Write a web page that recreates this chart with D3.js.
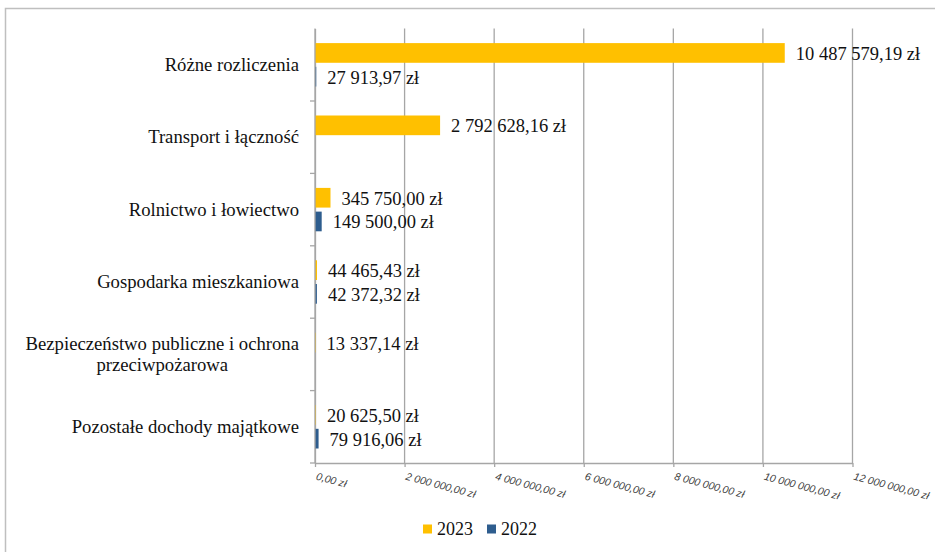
<!DOCTYPE html>
<html>
<head>
<meta charset="utf-8">
<script src="https://cdn.jsdelivr.net/npm/d3@7/dist/d3.min.js"></script>
<style>
  html, body { margin: 0; padding: 0; background: #fff; }
  svg { display: block; }
</style>
</head>
<body>
<svg id="chart" width="935" height="552"></svg>
<script>
// ---- Data ----
const categories = [
  "Różne rozliczenia",
  "Transport i łączność",
  "Rolnictwo i łowiectwo",
  "Gospodarka mieszkaniowa",
  "Bezpieczeństwo publiczne i ochrona przeciwpożarowa",
  "Pozostałe dochody majątkowe"
];
const seriesNames = ["2023", "2022"];
const values2023 = [10487579.19, 2792628.16, 345750.00, 44465.43, 13337.14, 20625.50];
const values2022 = [27913.97, null, 149500.00, 42372.32, null, 79916.06];
const xTickValues = [0, 2000000, 4000000, 6000000, 8000000, 10000000, 12000000];
const seriesColors = ["#FFC000", "#2E5D8E"];

// ---- Layout ----
const svg = d3.select("#chart");
const plot = { left: 315, right: 852.5, top: 28.6, bottom: 463 };

const pl = d3.formatLocale({ decimal: ",", thousands: " ", grouping: [3], currency: ["", " zł"] });
const fmt = v => pl.format(",.2f")(v) + " zł";

// outer border (extends past the canvas like in the reference)
svg.append("rect")
  .attr("x", 5.5).attr("y", 8.5).attr("width", 1200).attr("height", 1200)
  .attr("fill", "none").attr("stroke", "#BFBFBF").attr("stroke-width", 1.5);

const x = d3.scaleLinear().domain([0, 12000000]).range([plot.left, plot.right]);
const y = d3.scaleBand().domain(categories).range([plot.top, plot.bottom]).paddingInner(0).paddingOuter(0);
const yInner = d3.scaleBand().domain(seriesNames)
  .range([14.5, y.bandwidth() - 14.5]).paddingInner(0.17).paddingOuter(0);

// gridlines
svg.append("g").selectAll("line").data(xTickValues.slice(1)).join("line")
  .attr("x1", d => x(d)).attr("x2", d => x(d))
  .attr("y1", plot.top).attr("y2", plot.bottom)
  .attr("stroke", "#A6A6A6").attr("stroke-width", 1.3);

// x axis
const xAxis = d3.axisBottom(x).tickValues(xTickValues).tickSize(4).tickSizeOuter(0)
  .tickFormat(d => fmt(d));
const gx = svg.append("g").attr("transform", `translate(0,${plot.bottom})`).call(xAxis);
gx.select(".domain").attr("stroke", "#A6A6A6").attr("stroke-width", 1.3);
gx.selectAll(".tick line").attr("stroke", "#A6A6A6").attr("stroke-width", 1.3);
gx.selectAll(".tick text")
  .attr("text-anchor", "start")
  .attr("x", 0).attr("y", 0).attr("dy", null)
  .attr("transform", "translate(0,16.5) rotate(15)")
  .attr("font-family", "Liberation Sans, Arial, sans-serif")
  .attr("font-style", "italic")
  .attr("font-size", "10.5px")
  .attr("fill", "#404040");

// y axis
const yAxis = d3.axisLeft(y).tickSize(0).tickSizeOuter(0).tickFormat("");
const gy = svg.append("g").attr("transform", `translate(${plot.left},0)`).call(yAxis);
gy.select(".domain").attr("stroke", "#A6A6A6").attr("stroke-width", 1.3);
gy.selectAll(".tick").remove();
// category boundary ticks
const boundaries = categories.slice(1).map(c => y(c));
boundaries.push(plot.bottom);
gy.append("g").selectAll("line").data(boundaries).join("line")
  .attr("x1", -5).attr("x2", 0).attr("y1", d => d).attr("y2", d => d)
  .attr("stroke", "#A6A6A6").attr("stroke-width", 1.3);

// category labels (wrapped, centered lines, right-aligned block)
const labelRight = 299;
const maxLabelW = 285;
const catG = svg.append("g")
  .attr("font-family", "Liberation Serif, Times New Roman, serif")
  .attr("font-size", "18.7px").attr("fill", "#111");
categories.forEach(cat => {
  const words = cat.split(" ");
  const lines = [];
  let cur = [];
  const tmp = catG.append("text");
  words.forEach(w => {
    const test = cur.concat([w]).join(" ");
    tmp.text(test);
    if (tmp.node().getComputedTextLength() > maxLabelW && cur.length) {
      lines.push(cur.join(" "));
      cur = [w];
    } else cur.push(w);
  });
  lines.push(cur.join(" "));
  let widest = 0;
  lines.forEach(l => { tmp.text(l); widest = Math.max(widest, tmp.node().getComputedTextLength()); });
  tmp.remove();
  const cy = y(cat) + y.bandwidth() / 2;
  const lh = 21.5;
  const tx = lines.length > 1 ? labelRight - widest / 2 : labelRight;
  const t = catG.append("text")
    .attr("text-anchor", lines.length > 1 ? "middle" : "end")
    .attr("x", tx);
  lines.forEach((l, i) => {
    t.append("tspan")
      .attr("x", tx)
      .attr("y", cy + (i - (lines.length - 1) / 2) * lh)
      .attr("dy", "0.33em")
      .text(l);
  });
});

// bars
const seriesData = [values2023, values2022];
const barsG = svg.append("g");
const labelsG = svg.append("g")
  .attr("font-family", "Liberation Serif, Times New Roman, serif")
  .attr("font-size", "18.5px").attr("fill", "#111");
seriesNames.forEach((s, si) => {
  const rows = categories.map((c, i) => ({ c, v: seriesData[si][i] })).filter(d => d.v != null);
  barsG.append("g").selectAll("rect").data(rows).join("rect")
    .attr("x", x(0))
    .attr("y", d => y(d.c) + yInner(s))
    .attr("width", d => Math.max(0.8, x(d.v) - x(0)))
    .attr("height", yInner.bandwidth())
    .attr("fill", seriesColors[si]);
  labelsG.append("g").selectAll("text").data(rows).join("text")
    .attr("x", d => x(d.v) + 11)
    .attr("y", d => y(d.c) + yInner(s) + yInner.bandwidth() / 2)
    .attr("dy", "0.38em")
    .text(d => fmt(d.v));
});

// re-draw y axis line on top of bars
svg.append("line")
  .attr("x1", plot.left).attr("x2", plot.left).attr("y1", plot.top).attr("y2", plot.bottom)
  .attr("stroke", "#A6A6A6").attr("stroke-width", 1.3);

// legend
const legend = svg.append("g")
  .attr("font-family", "Liberation Serif, Times New Roman, serif")
  .attr("font-size", "18px").attr("fill", "#111");
const legendX = [423, 487];
seriesNames.forEach((s, i) => {
  legend.append("rect").attr("x", legendX[i]).attr("y", 524.5).attr("width", 9).attr("height", 9)
    .attr("fill", seriesColors[i]);
  legend.append("text").attr("x", legendX[i] + 14).attr("y", 534.5).text(s);
});
</script>
</body>
</html>
